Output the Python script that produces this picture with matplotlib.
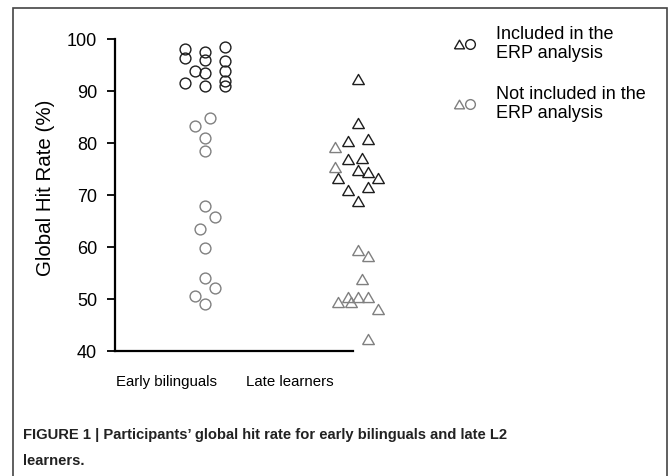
import matplotlib
matplotlib.use('Agg')
import matplotlib.pyplot as plt
from matplotlib.patches import Rectangle
import numpy as np

plt.rcParams['font.family'] = ['Liberation Sans', 'DejaVu Sans']

# Hit rates (%) per participant; x offsets are the horizontal jitter used to separate points
early_in = [98.1, 96.3, 93.8, 91.5, 97.5, 96.0, 93.5, 91.0, 98.5, 95.8, 93.8, 91.9, 91.0]
early_in_x = [-2, -2, -1, -2, 0, 0, 0, 0, 2, 2, 2, 2, 2]
early_out = [84.9, 83.3, 81.0, 78.5, 67.9, 65.8, 63.5, 59.9, 54.1, 52.1, 50.6, 49.0]
early_out_x = [0.5, -1, 0, 0, 0, 1, -0.5, 0, 0, 1, -1, 0]

late_in = [92.3, 83.8, 80.3, 80.7, 76.9, 77.2, 74.8, 73.3, 74.4, 73.3, 71.0, 71.5, 68.9]
late_in_x = [0, 0, -1, 1, -1, 0.4, 0, -2, 1, 2, -1, 1, 0]
late_out = [79.3, 75.3, 59.4, 58.3, 53.8, 50.4, 50.4, 50.4, 49.4, 49.4, 48.0, 42.4]
late_out_x = [-2.3, -2.3, 0, 1, 0.4, -1, 0, 1, -2, -0.7, 2, 1]

groups = ['Early bilinguals', 'Late learners']
group_label_x = [5.2, 17.5]
group_center = [9.0, 24.27]

black = '#1e1e1e'
grey = '#808080'
tri = [(-1, -0.866), (1, -0.866), (0, 0.866), (-1, -0.866)]

fig = plt.figure(figsize=(6.69, 4.76), dpi=100)
ax = fig.add_axes([115 / 669, 1 - 351 / 476, 238 / 669, 312 / 476])

def draw(vals, offs, center, marker, color, size):
    xs = center + np.array(offs)
    ax.plot(xs, vals, linestyle='none', marker=marker, markersize=size,
            markerfacecolor='none', markeredgecolor=color, markeredgewidth=1.0,
            clip_on=False)

draw(early_in, early_in_x, group_center[0], 'o', black, 7.8)
draw(early_out, early_out_x, group_center[0], 'o', grey, 7.8)
draw(late_in, late_in_x, group_center[1], tri, black, 8.4)
draw(late_out, late_out_x, group_center[1], tri, grey, 8.4)

ax.set_xlim(0, 23.8)
ax.set_ylim(40, 100)
ax.set_yticks(range(40, 101, 10))
ax.set_xticks(group_label_x)
ax.set_xticklabels(groups, fontsize=10.8)
ax.tick_params(axis='x', length=0, pad=17)
ax.tick_params(axis='y', direction='out', length=6, width=1.3, pad=7, labelsize=13)
for side in ['top', 'right']:
    ax.spines[side].set_visible(False)
for side in ['left', 'bottom']:
    ax.spines[side].set_linewidth(1.6)
    ax.spines[side].set_color('black')
ax.set_ylabel('Global Hit Rate (%)', fontsize=14.8)
ax.yaxis.set_label_coords(-0.25, 0.522)

# legend drawn by hand: triangle + circle glyphs next to each label
for ly, col, lines in [(44, black, ['Included in the', 'ERP analysis']),
                       (104, grey, ['Not included in the', 'ERP analysis'])]:
    fy = 1 - ly / 476
    fig.lines.append(plt.Line2D([459 / 669], [fy], marker=tri, markersize=7.2,
                                markerfacecolor='none', markeredgecolor=col,
                                markeredgewidth=1.0, transform=fig.transFigure))
    fig.lines.append(plt.Line2D([470 / 669], [fy], marker='o', markersize=7,
                                markerfacecolor='none', markeredgecolor=col,
                                markeredgewidth=1.0, transform=fig.transFigure))
    fig.text(496 / 669, fy, '\n'.join(lines), fontsize=13, va='center', ha='left',
             linespacing=1.2)

fig.text(23 / 669, 1 - 448 / 476,
         'FIGURE 1 | Participants\u2019 global hit rate for early bilinguals and late L2\nlearners.',
         fontsize=10.6, fontweight='bold', va='center', ha='left', linespacing=2.15,
         color='#222222')

fig.patches.append(Rectangle((13 / 669, -0.05), 654 / 669, 1.05 - 8 / 476,
                             transform=fig.transFigure, fill=False,
                             edgecolor='#444444', linewidth=1.2))

fig.savefig('out.png', dpi=100)
